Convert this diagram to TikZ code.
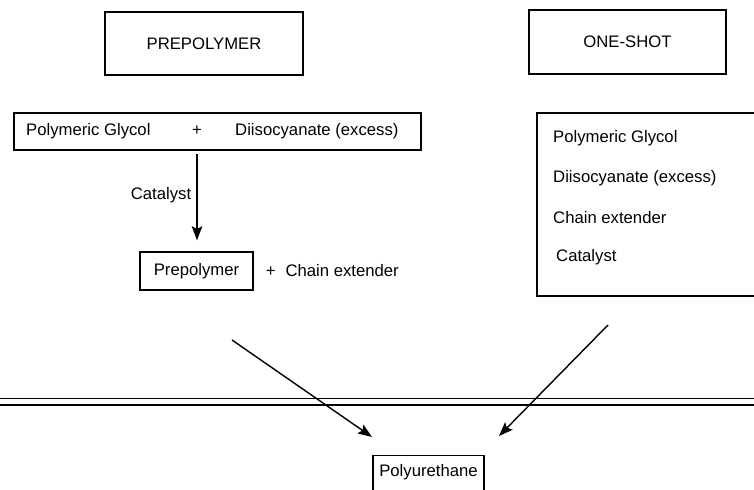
\documentclass[tikz,border=0pt]{standalone}
\usepackage{fontspec}
\setmainfont{Liberation Sans}
\usetikzlibrary{arrows.meta,positioning}

\begin{document}
\begin{tikzpicture}[x=0.02cm, y=-0.02cm, font=\fontsize{9.5}{11}\selectfont]
	\tikzstyle{box} = [rectangle, draw = black, line width=0.75pt, inner sep=0pt]
\tikzstyle{line} = [line width=0.8pt, >={Stealth[length=8pt,width=6pt,inset=1.5pt]}]
\useasboundingbox (0,0) rectangle (754,490);
\clip (0,0) rectangle (754,490);
\node(prehead)[box, minimum width=3.96cm, minimum height=1.26cm] at (204,43.5) {PREPOLYMER};
\node(shothead)[box, minimum width=3.94cm, minimum height=1.28cm] at (627.5,42) {ONE-SHOT};
\node(react)[box, minimum width=8.14cm, minimum height=0.74cm] at (217.5,131.5) {};
\node(glycol)[anchor=west] at (20,131) {Polymeric Glycol};
\node(plus) at (197,131) {+};
\node(diiso)[anchor=west] at (229,131) {Diisocyanate (excess)};
\node(cat) at (161,195) {Catalyst};
\node(pre)[box, minimum width=2.26cm, minimum height=0.76cm] at (196.5,271) {Prepolymer};
\node(ext)[right = 0.12cm of pre] {+\hspace{0.6em}Chain extender};
\node(mix)[box, minimum width=5.06cm, minimum height=3.66cm] at (663.5,204.5) {};
\node(glycol2)[anchor=west] at (547,138) {Polymeric Glycol};
\node(diiso2)[anchor=west] at (547,178) {Diisocyanate (excess)};
\node(ext2)[anchor=west] at (547,218) {Chain extender};
\node(cat2)[anchor=west] at (550,257) {Catalyst};
\node(pu)[box, anchor=north, minimum width=2.22cm, minimum height=1.2cm] at (428.5,455) {};
\node(putext) at (428.5,472) {Polyurethane};
\coordinate(from1) at (232,340);
\coordinate(to1) at (372,437);
\coordinate(from2) at (608,325);
\coordinate(to2) at (499,436);
\draw[line,->, shorten <=0.06cm, shorten >=0.22cm] (plus |- react.south) -- (plus |- pre.north);
\draw[line,->] (from1) -- (to1);
\draw[line,->] (from2) -- (to2);
\draw[line width=0.5pt] (0,398) -- (754,398);
\draw[line width=1.7pt] (0,405) -- (754,405);
  \end{tikzpicture}
\end{document}
